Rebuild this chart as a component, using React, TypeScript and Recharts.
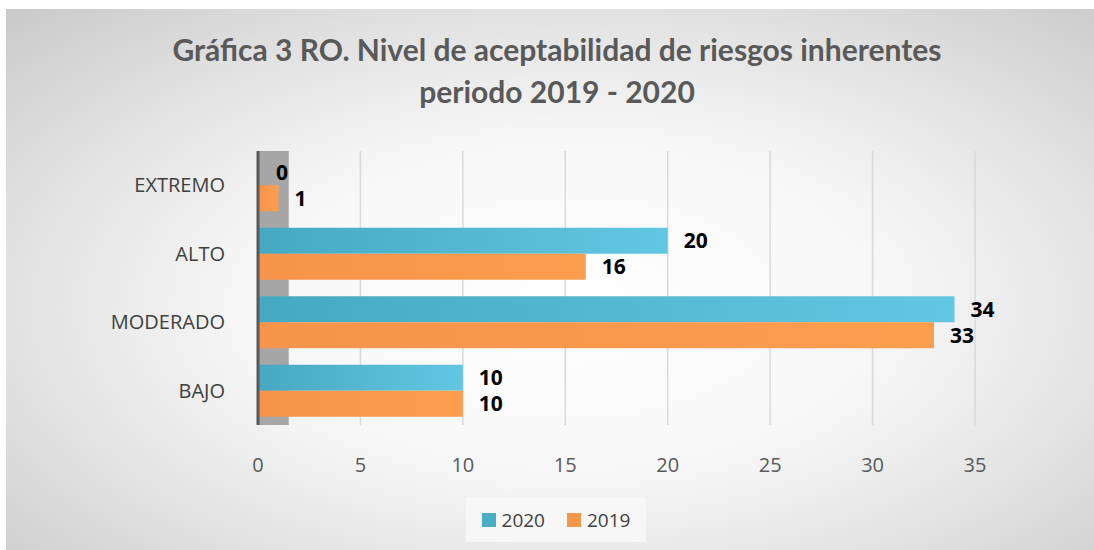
import {
  BarChart,
  Bar,
  XAxis,
  YAxis,
  CartesianGrid,
  LabelList,
  ReferenceArea,
} from "recharts";

const categories = ["EXTREMO", "ALTO", "MODERADO", "BAJO"];
const values2020 = [0, 20, 34, 10];
const values2019 = [1, 16, 33, 10];
const xTicks = [0, 5, 10, 15, 20, 25, 30, 35];

const data = categories.map((name, i) => ({
  name,
  y2020: values2020[i],
  y2019: values2019[i],
}));

const BLUE = "#4bacc6";
const ORANGE = "#f79646";

// legend drawn as a plain box under the plot, like the Excel one
function LegendBox() {
  return (
    <div
      style={{
        position: "absolute",
        left: 460,
        top: 488,
        width: 180,
        height: 45,
        background: "#f7f7f7",
        display: "flex",
        alignItems: "center",
        justifyContent: "center",
        gap: 22,
        fontFamily: "Open Sans",
        fontSize: 19,
        color: "#404040",
      }}
    >
      <span style={{ display: "flex", alignItems: "center" }}>
        <span style={{ width: 14, height: 14, background: BLUE, marginRight: 6 }} />
        2020
      </span>
      <span style={{ display: "flex", alignItems: "center" }}>
        <span style={{ width: 14, height: 14, background: ORANGE, marginRight: 6 }} />
        2019
      </span>
    </div>
  );
}

export default function App() {
  return (
    <div
      style={{
        position: "absolute",
        left: 6,
        top: 9,
        width: 1088,
        height: 541,
        background:
          "radial-gradient(ellipse at 52% 55%, #ffffff 0%, #f7f7f7 40%, #e0e0e0 72%, #c9c9c9 100%)",
        fontFamily: "Open Sans",
      }}
    >
      <div
        style={{
          position: "absolute",
          top: 19,
          left: 0,
          width: 1102,
          textAlign: "center",
          fontFamily: "Lato",
          fontWeight: 700,
          fontSize: 30,
          lineHeight: "42px",
          color: "#595959",
        }}
      >
        Gráfica 3 RO. Nivel de aceptabilidad de riesgos inherentes
        <br />
        periodo 2019 - 2020
      </div>
      <BarChart
        width={1088}
        height={541}
        data={data}
        layout="vertical"
        margin={{ top: 142, right: 119, bottom: 75, left: 0 }}
        barGap={0}
        barCategoryGap="12%"
      >
        <defs>
          <linearGradient id="gBlue" x1="0" y1="0" x2="1" y2="0">
            <stop offset="0%" stopColor="#46a9c4" />
            <stop offset="100%" stopColor="#62c7e2" />
          </linearGradient>
          <linearGradient id="gOrange" x1="0" y1="0" x2="1" y2="0">
            <stop offset="0%" stopColor="#f6944a" />
            <stop offset="100%" stopColor="#fd9d4e" />
          </linearGradient>
        </defs>
        <CartesianGrid horizontal={false} stroke="#d9d9d9" strokeWidth={1.5} />
        <ReferenceArea x1={0} x2={1.5} fill="#a6a6a6" fillOpacity={1} stroke="none" />
        <XAxis
          type="number"
          domain={[0, 35]}
          ticks={xTicks}
          axisLine={false}
          tickLine={false}
          tickMargin={27}
          height={50}
          tick={{ fill: "#595959", fontSize: 20, fontFamily: "Open Sans" }}
        />
        <YAxis
          type="category"
          dataKey="name"
          width={252}
          axisLine={{ stroke: "#595959", strokeWidth: 3 }}
          tickLine={false}
          tickMargin={27}
          tick={{ fill: "#404040", fontSize: 20, fontFamily: "Open Sans" }}
        />
        <Bar
          dataKey="y2020"
          name="2020"
          fill="url(#gBlue)"
          minPointSize={2}
          isAnimationActive={false}
        >
          <LabelList
            dataKey="y2020"
            position="right"
            offset={16}
            fill="#000000"
            fontSize={21}
            fontWeight={700}
            fontFamily="Open Sans"
          />
        </Bar>
        <Bar dataKey="y2019" name="2019" fill="url(#gOrange)" isAnimationActive={false}>
          <LabelList
            dataKey="y2019"
            position="right"
            offset={16}
            fill="#000000"
            fontSize={21}
            fontWeight={700}
            fontFamily="Open Sans"
          />
        </Bar>
      </BarChart>
      <LegendBox />
    </div>
  );
}
